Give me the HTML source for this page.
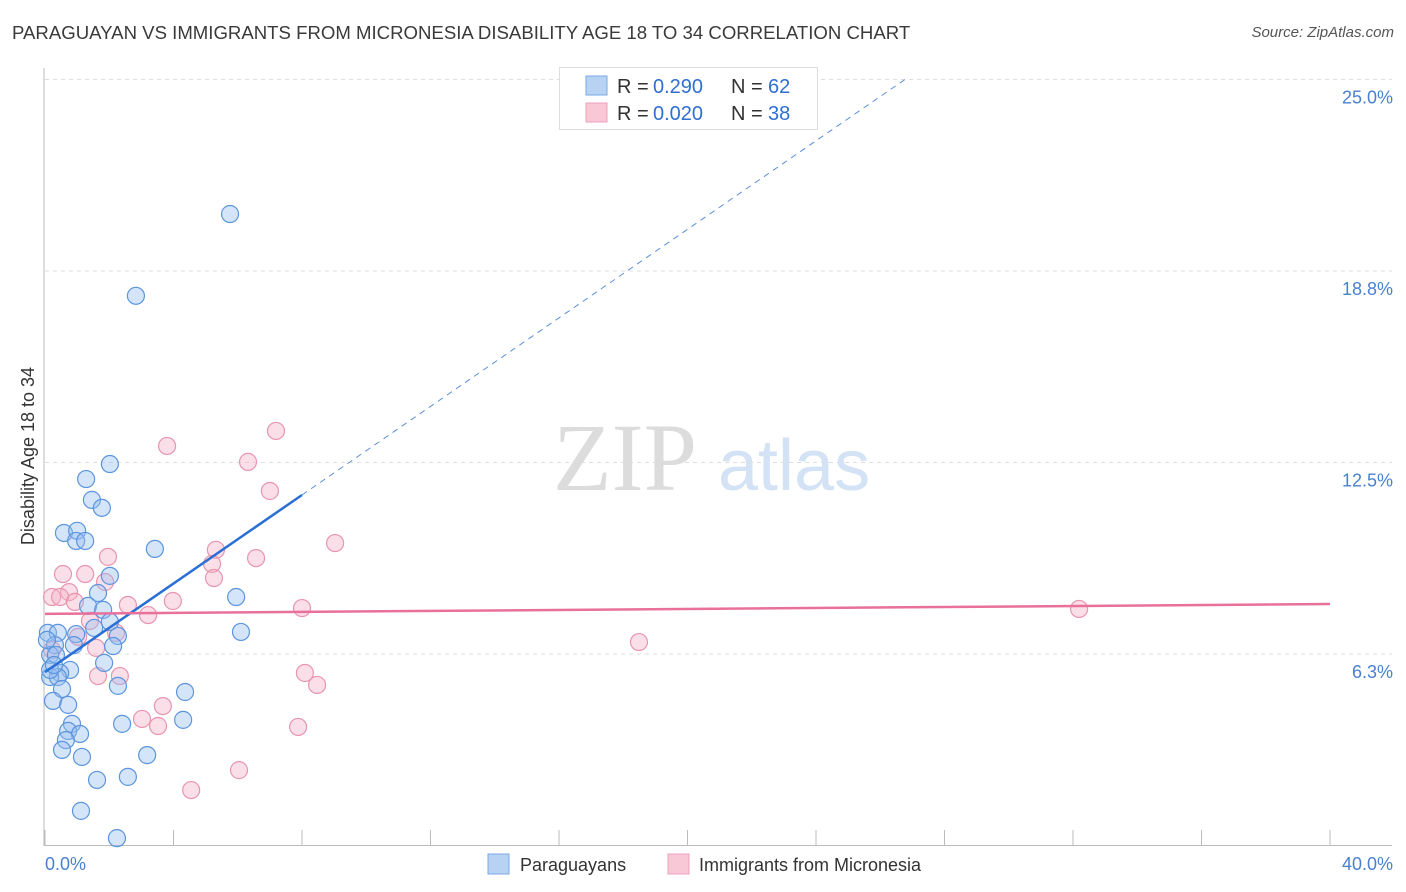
<!DOCTYPE html>
<html><head><meta charset="utf-8"><style>
body{margin:0;background:#fff;font-family:"Liberation Sans",sans-serif}
#wrap{position:relative;width:1406px;height:892px;overflow:hidden}
.t{position:absolute;white-space:nowrap}
</style></head><body>
<div id="wrap">
<div class="t" style="left:12px;top:22px;font-size:18.6px;color:#3a3a3a">PARAGUAYAN VS IMMIGRANTS FROM MICRONESIA DISABILITY AGE 18 TO 34 CORRELATION CHART</div>
<div class="t" style="right:12px;top:24px;font-size:15px;color:#555;font-style:italic">Source: ZipAtlas.com</div>
<svg id="svg" width="1406" height="892" style="position:absolute;left:0;top:0"></svg>
</div>
<script>
const blueX=[5.76,2.83,2.02,1.28,1.46,1.77,0.59,1.00,0.97,1.25,3.42,2.02,1.65,5.95,1.34,1.81,2.02,1.53,2.27,6.10,0.09,0.40,0.97,0.31,2.12,0.90,0.16,1.84,0.78,0.47,0.16,0.40,4.36,0.53,2.27,0.25,0.72,2.40,4.30,0.84,0.72,1.09,0.65,0.53,1.15,3.18,1.62,2.58,1.12,2.24,0.16,0.34,0.28,0.06];
const blueY=[20.61,17.94,12.45,11.96,11.28,11.02,10.20,10.27,9.94,9.94,9.68,8.80,8.24,8.11,7.82,7.69,7.30,7.10,6.84,6.97,6.94,6.94,6.90,6.54,6.51,6.54,6.22,5.96,5.73,5.63,5.50,5.50,5.01,5.11,5.21,4.72,4.59,3.97,4.10,3.97,3.74,3.64,3.44,3.12,2.89,2.95,2.14,2.24,1.13,0.24,5.73,6.22,5.89,6.71];
const pinkX=[3.80,7.19,6.32,7.00,9.03,5.32,1.96,6.57,5.20,0.56,1.25,5.26,1.87,0.75,0.22,0.47,0.93,2.58,3.98,8.00,3.21,1.40,2.21,1.03,32.19,18.49,1.59,8.09,8.47,1.65,2.33,3.67,3.02,3.52,7.88,6.04,4.55,0.22];
const pinkY=[13.04,13.53,12.52,11.57,9.87,9.65,9.42,9.38,9.19,8.86,8.86,8.73,8.60,8.27,8.11,8.11,7.95,7.85,7.98,7.75,7.52,7.33,6.94,6.81,7.72,6.64,6.45,5.63,5.24,5.53,5.53,4.55,4.13,3.90,3.87,2.46,1.81,6.38];
const yTicks=[6.25,12.5,18.75,25];
const yTickLabels=["6.3%","12.5%","18.8%","25.0%"];
const xTicks=[0,4,8,12,16,20,24,28,32,36,40];
const blueTrend=[5.66,0.7225]; // intercept, slope
const pinkTrend=[7.56,7.88];    // y at x=0, x=40

const X=v=>45+v/40*1285, Y=v=>845.5-v/6.25*191.5;
const svg=document.getElementById('svg');const NS='http://www.w3.org/2000/svg';
function el(tag,a,name,txt){const e=document.createElementNS(NS,tag);for(const k in a)e.setAttribute(k,a[k]);


if(txt!==undefined)e.textContent=txt;svg.appendChild(e);return e;}
yTicks.forEach((t,i)=>{el('line',{x1:45,x2:1392,y1:Y(t),y2:Y(t),stroke:'#ddd','stroke-dasharray':'4,4'},'gridline');
el('text',{x:1393,y:Y(t)+24,'text-anchor':'end','font-size':18,fill:'#4a80d0'},'y-tick-label',yTickLabels[i]);});
el('line',{x1:44,x2:44,y1:68,y2:846,stroke:'#bbb'},'y-axis');
el('line',{x1:44,x2:1392,y1:845.5,y2:845.5,stroke:'#bbb'},'x-axis');
xTicks.forEach(t=>el('line',{x1:X(t),x2:X(t),y1:830,y2:846,stroke:'#bbb'},'x-tick'));
el('text',{x:45,y:870,'font-size':18,fill:'#4a80d0'},'x-min-label','0.0%');
el('text',{x:1393,y:870,'text-anchor':'end','font-size':18,fill:'#4a80d0'},'x-max-label','40.0%');
el('text',{x:34,y:456,'font-size':18,fill:'#333','text-anchor':'middle',transform:'rotate(-90 34 456)'},'y-axis-title','Disability Age 18 to 34');
el('text',{x:553,y:490,'font-size':96,fill:'#dcdcdc','font-family':'Liberation Serif'},'watermark-zip','ZIP');
el('text',{x:718,y:490,'font-size':72,fill:'#d3e2f4'},'watermark-atlas','atlas');
pinkX.forEach((v,i)=>el('circle',{cx:X(v),cy:Y(pinkY[i]),r:8.5,fill:'rgba(244,176,198,0.4)',stroke:'#e895ae','stroke-width':1.2},'pink-point'));
blueX.forEach((v,i)=>el('circle',{cx:X(v),cy:Y(blueY[i]),r:8.5,fill:'rgba(150,190,240,0.4)',stroke:'#5b95dd','stroke-width':1.2},'blue-point'));
const bx2=(25-blueTrend[0])/blueTrend[1];
el('line',{x1:X(8),y1:Y(blueTrend[0]+8*blueTrend[1]),x2:X(bx2),y2:Y(25),stroke:'#5b8fd8','stroke-width':1,'stroke-dasharray':'6,5'},'blue-trend-extension');
el('line',{x1:X(0),y1:Y(blueTrend[0]),x2:X(8),y2:Y(blueTrend[0]+8*blueTrend[1]),stroke:'#2a6fd4','stroke-width':2.5},'blue-trend-line');
el('line',{x1:X(0),y1:Y(pinkTrend[0]),x2:X(40),y2:Y(pinkTrend[1]),stroke:'#e8709a','stroke-width':2.5},'pink-trend-line');
// legend
el('rect',{x:559.5,y:67.5,width:258,height:62,fill:'#fff',stroke:'#ddd'},'legend-box');
el('rect',{x:586,y:76,width:21,height:19,fill:'#b8d2f4',stroke:'#7aa8e6'},'legend-swatch-blue');
el('rect',{x:586,y:103,width:21,height:19,fill:'#f8c8d6',stroke:'#eea0b8'},'legend-swatch-pink');
el('text',{x:617,y:93,'font-size':20,fill:'#333'},'legend-r-label','R =');
el('text',{x:653,y:93,'font-size':20,fill:'#2f6fd0'},'legend-r-blue','0.290');
el('text',{x:731,y:93,'font-size':20,fill:'#333'},'legend-n-label','N =');
el('text',{x:768,y:93,'font-size':20,fill:'#2f6fd0'},'legend-n-blue','62');
el('text',{x:617,y:120,'font-size':20,fill:'#333'},'legend-r-label','R =');
el('text',{x:653,y:120,'font-size':20,fill:'#2f6fd0'},'legend-r-pink','0.020');
el('text',{x:731,y:120,'font-size':20,fill:'#333'},'legend-n-label','N =');
el('text',{x:768,y:120,'font-size':20,fill:'#2f6fd0'},'legend-n-pink','38');
// bottom legend
el('rect',{x:488,y:854,width:21,height:20,fill:'#b8d2f4',stroke:'#7aa8e6'},'bottom-legend-swatch-blue');
el('text',{x:520,y:871,'font-size':18,fill:'#333'},'bottom-legend-paraguayans','Paraguayans');
el('rect',{x:668,y:854,width:21,height:20,fill:'#f8c8d6',stroke:'#eea0b8'},'bottom-legend-swatch-pink');
el('text',{x:699,y:871,'font-size':18,fill:'#333'},'bottom-legend-micronesia','Immigrants from Micronesia');
</script>
</body></html>
